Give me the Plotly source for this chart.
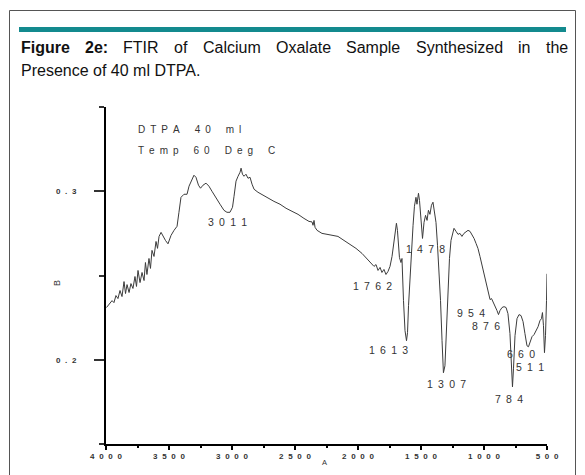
import plotly.graph_objects as go

# ---------------- data ----------------
wavenumber = [3996, 3976, 3952, 3937, 3921, 3905, 3889, 3873, 3857, 3845, 3833, 3817, 3802, 3786,
              3770, 3758, 3746, 3730, 3714, 3698, 3687, 3675, 3659, 3647, 3635, 3619, 3603, 3591,
              3579, 3563, 3548, 3528, 3508, 3484, 3460, 3436, 3421, 3405, 3381, 3357, 3341, 3321,
              3302, 3286, 3266, 3250, 3230, 3206, 3183, 3159, 3127, 3095, 3064, 3040, 3016, 2996,
              2984, 2968, 2952, 2936, 2928, 2917, 2905, 2889, 2873, 2857, 2841, 2825, 2794, 2754,
              2714, 2667, 2619, 2571, 2524, 2476, 2429, 2389, 2365, 2357, 2349, 2341, 2325, 2286,
              2222, 2159, 2111, 2063, 2016, 1968, 1929, 1897, 1873, 1857, 1841, 1825, 1810, 1794,
              1778, 1762, 1746, 1730, 1714, 1702, 1695, 1687, 1679, 1671, 1659, 1651, 1639, 1627,
              1615, 1607, 1599, 1587, 1575, 1563, 1552, 1540, 1532, 1520, 1512, 1500, 1488, 1476,
              1464, 1452, 1441, 1429, 1417, 1405, 1393, 1381, 1369, 1357, 1345, 1333, 1322, 1310,
              1298, 1286, 1274, 1262, 1250, 1238, 1222, 1206, 1191, 1175, 1159, 1143, 1127, 1111,
              1095, 1079, 1063, 1048, 1032, 1016, 1000, 984, 968, 952, 940, 929, 913, 897, 885,
              873, 857, 841, 825, 810, 794, 782, 774, 766, 754, 738, 722, 706, 690, 675, 659, 647,
              635, 619, 603, 587, 571, 556, 544, 536, 528, 520, 512, 504, 500]
absorbance = [0.2310, 0.2327, 0.2351, 0.2339, 0.2381, 0.2363, 0.2411, 0.2375, 0.2464, 0.2393,
              0.2446, 0.2399, 0.2452, 0.2423, 0.2494, 0.2435, 0.2530, 0.2458, 0.2518, 0.2470,
              0.2577, 0.2506, 0.2601, 0.2542, 0.2649, 0.2613, 0.2702, 0.2661, 0.2732, 0.2756,
              0.2732, 0.2708, 0.2688, 0.2738, 0.2768, 0.2792, 0.2875, 0.2964, 0.2982, 0.2982,
              0.3030, 0.3065, 0.3095, 0.3083, 0.3036, 0.3018, 0.3036, 0.3048, 0.3030, 0.3000,
              0.2958, 0.2923, 0.2887, 0.2875, 0.2875, 0.2905, 0.2970, 0.3060, 0.3089, 0.3113,
              0.3137, 0.3101, 0.3089, 0.3101, 0.3077, 0.3083, 0.3042, 0.3012, 0.2994, 0.2976,
              0.2958, 0.2940, 0.2923, 0.2899, 0.2881, 0.2863, 0.2839, 0.2821, 0.2818, 0.2798,
              0.2827, 0.2786, 0.2768, 0.2750, 0.2741, 0.2732, 0.2708, 0.2685, 0.2661, 0.2631,
              0.2601, 0.2577, 0.2554, 0.2565, 0.2530, 0.2548, 0.2518, 0.2536, 0.2506, 0.2524,
              0.2554, 0.2613, 0.2708, 0.2768, 0.2810, 0.2768, 0.2708, 0.2607, 0.2577, 0.2601,
              0.2351, 0.2173, 0.2113, 0.2161, 0.2321, 0.2500, 0.2637, 0.2798, 0.2911, 0.2964,
              0.2923, 0.2988, 0.2946, 0.2815, 0.2720, 0.2815, 0.2857, 0.2827, 0.2887, 0.2863,
              0.2917, 0.2935, 0.2887, 0.2815, 0.2679, 0.2542, 0.2351, 0.2113, 0.1923, 0.1964,
              0.2202, 0.2440, 0.2601, 0.2708, 0.2756, 0.2780, 0.2762, 0.2744, 0.2750, 0.2732,
              0.2750, 0.2762, 0.2768, 0.2762, 0.2744, 0.2720, 0.2690, 0.2661, 0.2613, 0.2560,
              0.2512, 0.2464, 0.2411, 0.2357, 0.2363, 0.2345, 0.2327, 0.2292, 0.2268, 0.2292,
              0.2310, 0.2315, 0.2310, 0.2274, 0.2155, 0.1964, 0.1839, 0.1946, 0.2143, 0.2244,
              0.2268, 0.2262, 0.2226, 0.2155, 0.2083, 0.2077, 0.2107, 0.2137, 0.2149, 0.2173,
              0.2196, 0.2232, 0.2244, 0.2280, 0.2202, 0.2042, 0.2143, 0.2351, 0.2510]

x_tick_values = [4000, 3500, 3000, 2500, 2000, 1500, 1000, 500]
x_tick_labels = ["4000", "3500", "3000", "2500", "2000", "1500", "1000", "500"]
y_tick_values = [0.2, 0.3]
y_tick_labels = ["0.2", "0.3"]

x_title = "A"
y_title = "B"
note_lines = ["DTPA 40 ml", "Temp 60 Deg C"]
peak_labels = ["3011", "1478", "1762", "1613", "1307", "954", "876", "660", "511", "784"]
peak_label_x = [3036, 1464, 1881, 1758, 1294, 1107, 984, 710, 631, 805]
peak_label_y = [0.2815, 0.2655, 0.2440, 0.2060, 0.1857, 0.2280, 0.2202, 0.2036, 0.1958, 0.1768]

caption_bold = ["Figure", "2e:"]
caption_words = ["FTIR", "of", "Calcium", "Oxalate", "Sample", "Synthesized", "in", "the"]
caption_line2 = "Presence of 40 ml DTPA."

# ---------------- layout helpers ----------------
W, H = 585, 475
L, R, T, B = 106, 38, 107, 31
PW, PH = W - L - R, H - T - B
FONT = "Liberation Sans, Arial, Helvetica, sans-serif"


def px(x):
    return (x - L) / PW


def py(y):
    return (H - B - y) / PH


def spaced(s, gap="\u2002", wgap="\u2003\u2002"):
    return wgap.join(gap.join(w) for w in s.split(" "))


AW = {' ': 278, 'a': 556, 'b': 556, 'c': 500, 'd': 556, 'e': 556, 'f': 278, 'g': 556, 'h': 556,
      'i': 222, 'l': 222, 'm': 833, 'n': 556, 'o': 556, 'p': 556, 'r': 333, 's': 500, 't': 278,
      'u': 556, 'x': 500, 'y': 500, 'z': 500, 'F': 611, 'T': 611, 'I': 278, 'R': 722, 'C': 722,
      'O': 778, 'S': 667, 'P': 667, 'D': 722, 'A': 667, ':': 278, '.': 278}
ABW = {'F': 611, 'i': 278, 'g': 611, 'u': 611, 'r': 389, 'e': 556, ':': 333}


def textw(s, size, bold=False):
    tot = 0
    for ch in s:
        if ch.isdigit():
            tot += 556
        elif bold and ch in ABW:
            tot += ABW[ch]
        else:
            tot += AW.get(ch, 556)
    return tot * size / 1000


fig = go.Figure()
fig.add_trace(go.Scatter(x=wavenumber, y=absorbance, mode="lines",
                         line=dict(color="#3c3c3c", width=1), hoverinfo="skip",
                         showlegend=False))

annotations = []
# peak labels
for t, xx, yy in zip(peak_labels, peak_label_x, peak_label_y):
    annotations.append(dict(x=xx, y=yy, xref="x", yref="y", text=spaced(t), showarrow=False,
                            font=dict(family=FONT, size=10.5, color="#333333"),
                            xanchor="center", yanchor="middle"))
# notes
for t, yy in zip(note_lines, [129, 150]):
    annotations.append(dict(x=px(136), y=py(yy), xref="paper", yref="paper", text=spaced(t),
                            showarrow=False, font=dict(family=FONT, size=10, color="#333333"),
                            xanchor="left", yanchor="middle"))
# axis titles
annotations.append(dict(x=px(50), y=py(283), xref="paper", yref="paper", text=y_title,
                        showarrow=False, textangle=-90,
                        font=dict(family=FONT, size=9, color="#333333")))
annotations.append(dict(x=px(324), y=py(469), xref="paper", yref="paper", text=x_title,
                        showarrow=False, font=dict(family=FONT, size=7.5, color="#333333")))

# caption, justified first line
CAP = 16
left, right = 19, 566
words = [(w, True) for w in caption_bold] + [(w, False) for w in caption_words]
widths = [textw(w, CAP, b) for w, b in words]
gap = (right - left - sum(widths)) / (len(words) - 1)
xcur = left
for (w, b), wd in zip(words, widths):
    annotations.append(dict(x=px(xcur), y=py(47), xref="paper", yref="paper",
                            text=f"<b>{w}</b>" if b else w, showarrow=False,
                            xanchor="left", yanchor="middle",
                            font=dict(family=FONT, size=CAP, color="#111111")))
    xcur += wd + gap
annotations.append(dict(x=px(left), y=py(70), xref="paper", yref="paper", text=caption_line2,
                        showarrow=False, xanchor="left", yanchor="middle",
                        font=dict(family=FONT, size=CAP, color="#111111")))

shapes = [
    # teal bar
    dict(type="rect", xref="paper", yref="paper", x0=px(19), x1=px(566), y0=py(27), y1=py(32),
         fillcolor="#138a8e", line=dict(width=0), layer="above"),
    # frame
    dict(type="path", xref="paper", yref="paper",
         path=f"M {px(9.5)} {py(480)} L {px(9.5)} {py(10.5)} L {px(575.5)} {py(10.5)} L {px(575.5)} {py(480)}",
         line=dict(color="#555555", width=1), layer="above"),
]

fig.update_layout(
    width=W, height=H, margin=dict(l=L, r=R, t=T, b=B, pad=0),
    paper_bgcolor="white", plot_bgcolor="white",
    annotations=annotations, shapes=shapes, showlegend=False,
    xaxis=dict(range=[4000, 500], showgrid=False, zeroline=False, showline=True,
               linecolor="black", linewidth=1.5, ticks="outside", ticklen=4, tickwidth=1.5,
               tickcolor="black", tickvals=x_tick_values,
               ticktext=[spaced(t, gap="\u2004\u2005") for t in x_tick_labels],
               tickfont=dict(family=FONT, size=8, color="#333333", weight="bold"),
               minor=dict(ticks="outside", ticklen=2, tickwidth=1.5, tickcolor="black",
                          tickvals=[3750, 3250, 2750, 2250, 1750, 1250, 750])),
    yaxis=dict(range=[0.15, 0.35], showgrid=False, zeroline=False, showline=True,
               linecolor="black", linewidth=2, ticks="outside", ticklen=10, tickwidth=1.5,
               tickcolor="#333333", tickvals=y_tick_values,
               ticktext=[spaced(t, gap="\u2004\u2005") for t in y_tick_labels],
               tickfont=dict(family=FONT, size=8, color="#333333", weight="bold"),
               ticklabelstandoff=16,
               minor=dict(ticks="outside", ticklen=5, tickwidth=1.5, tickcolor="#333333",
                          tickvals=[0.15, 0.25, 0.35])),
)

fig.write_html("out.html", config={"displayModeBar": False},
               post_script="document.body.style.margin='0';document.body.style.overflow='hidden';")
